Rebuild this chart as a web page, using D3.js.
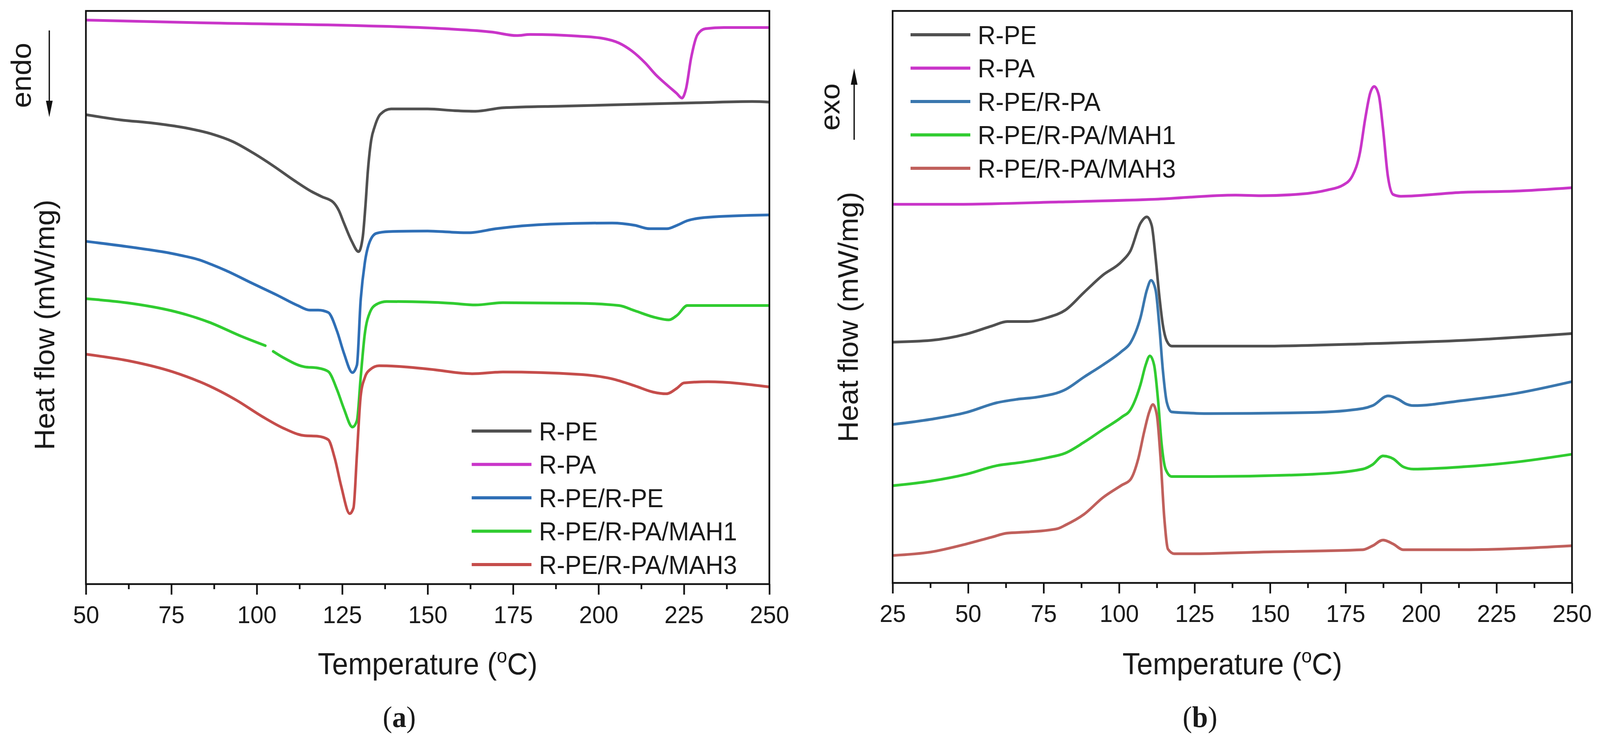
<!DOCTYPE html>
<html>
<head>
<meta charset="utf-8">
<title>DSC curves</title>
<script src="https://cdn.jsdelivr.net/npm/d3@7"></script>
<style>
  html, body { margin: 0; padding: 0; background: #fff; overflow: hidden; }
  svg { display: block; }
  text { font-family: "Liberation Sans", Arial, sans-serif; fill: #1a1a1a; }
</style>
</head>
<body>
<script>
// ---------------------
// data (temperature in C, heat flow in arbitrary units, curves shifted)
// ---------------------

// (a) heating
var aPE = [[50,8.19],[60,8.10],[70,8.04],[80,7.95],[87,7.85],[93,7.72],[99,7.52],[105,7.29],[111,7.04],[116,6.85],[119,6.76],[122.4,6.66],[124,6.52],[125.5,6.30],[127.8,5.98],[129.8,5.80],[131,6.05],[131.8,6.6],[132.5,7.2],[133.5,7.75],[134.5,7.98],[136.2,8.20],[139.3,8.29],[150,8.29],[158,8.26],[164,8.25],[172,8.31],[190,8.34],[210,8.37],[230,8.40],[245,8.42],[250,8.41]];
var aPA = [[50,9.84],[86,9.79],[132,9.74],[155,9.69],[169,9.63],[176,9.57],[180,9.59],[194,9.56],[201.4,9.52],[206,9.44],[209.8,9.30],[213.7,9.09],[216.7,8.89],[219.8,8.72],[222.9,8.56],[224.4,8.48],[225.6,8.64],[227.1,9.18],[229,9.59],[231.3,9.69],[236.7,9.71],[250,9.71]];
var aBlend = [[50,5.98],[63,5.88],[75,5.77],[79,5.72],[83,5.66],[87,5.57],[91,5.47],[98.6,5.25],[106,5.04],[112,4.86],[115.5,4.78],[118,4.78],[120.9,4.74],[123.5,4.41],[125.5,4.03],[128,3.69],[129.3,3.82],[130.4,4.95],[131.6,5.60],[133.1,5.98],[135,6.12],[138.5,6.15],[150,6.16],[157,6.14],[162,6.13],[170,6.20],[186,6.28],[204,6.30],[210.6,6.26],[215,6.20],[220,6.20],[223,6.26],[226,6.34],[232,6.40],[250,6.44]];
var aMAH1 = [[50,4.98],[63,4.90],[75,4.77],[80,4.69],[86,4.57],[95.6,4.32],[102.5,4.16],[103.6,null],[104.8,4.06],[107.8,3.95],[114,3.79],[117.8,3.77],[120.9,3.71],[123.5,3.39],[125.5,3.06],[128,2.74],[129.3,2.85],[130.4,3.60],[131.6,4.36],[133.1,4.74],[135,4.88],[138,4.93],[150,4.92],[157,4.90],[164,4.87],[172,4.91],[194,4.90],[206,4.86],[210.6,4.77],[216.7,4.65],[220.6,4.61],[223,4.69],[226,4.86],[250,4.86]];
var aMAH3 = [[50,4.01],[63,3.89],[75.6,3.70],[86,3.46],[94,3.21],[101.7,2.92],[107.8,2.72],[114,2.59],[117.8,2.58],[120.9,2.52],[122.8,2.20],[124.7,1.71],[127.2,1.23],[128.3,1.33],[129.3,2.25],[130.4,3.28],[131.6,3.60],[133.1,3.74],[135.8,3.81],[141,3.80],[152,3.74],[160,3.68],[163,3.67],[172,3.70],[194,3.66],[204,3.58],[210.6,3.46],[216,3.35],[219.8,3.32],[223,3.42],[225,3.51],[232,3.53],[250,3.44]];

// (b) cooling
var bPE = [[25,4.21],[37.6,4.24],[49.4,4.35],[57.8,4.49],[63,4.57],[69.6,4.57],[76.3,4.64],[82.2,4.77],[88.4,5.08],[94.6,5.38],[100.9,5.62],[103.8,5.81],[107.1,6.29],[109.2,6.40],[110.8,6.25],[112.1,5.68],[113.3,5.03],[114.5,4.51],[115.8,4.23],[117.4,4.14],[147,4.14],[181,4.18],[214,4.24],[250,4.36]];
var bPA = [[25,6.62],[46,6.62],[80,6.66],[113,6.71],[138.6,6.78],[147,6.77],[160.5,6.80],[169,6.87],[174,6.95],[177.3,7.12],[179.8,7.53],[181.5,8.11],[183.2,8.57],[184.5,8.68],[186,8.53],[187.4,7.95],[189,7.12],[190.8,6.79],[193.3,6.76],[214,6.83],[231,6.85],[250,6.91]];
var bBlend = [[25,2.77],[37.6,2.86],[49.4,2.98],[59.5,3.15],[66.2,3.21],[73,3.25],[82.2,3.38],[88.4,3.60],[94.6,3.81],[100.9,4.05],[103.8,4.20],[107.1,4.64],[109.2,5.12],[110.6,5.29],[112.1,5.12],[113.3,4.51],[114.5,3.72],[115.8,3.16],[117.4,2.99],[123.7,2.97],[130,2.96],[164,2.98],[180.7,3.05],[184,3.10],[189.1,3.27],[192.5,3.21],[195,3.13],[197.5,3.10],[214,3.19],[231,3.31],[250,3.52]];
var bMAH1 = [[25,1.70],[37.6,1.78],[49.4,1.90],[59.5,2.05],[67.9,2.11],[76.3,2.19],[82.2,2.27],[88.4,2.46],[94.6,2.68],[100.9,2.90],[103.8,3.03],[107.1,3.47],[108.8,3.81],[110.2,3.97],[111.6,3.81],[112.9,3.20],[114.1,2.42],[115.4,1.99],[117.4,1.86],[123.7,1.86],[130,1.86],[164,1.90],[180.7,1.99],[184,2.07],[187.4,2.22],[190.8,2.17],[194.1,2.03],[197.5,1.99],[214,2.03],[231,2.11],[250,2.25]];
var bMAH3 = [[25,0.48],[37.6,0.54],[49.4,0.68],[57.8,0.80],[62.9,0.87],[69.6,0.89],[79.7,0.95],[82.2,1.01],[88.4,1.20],[94.6,1.49],[100.9,1.71],[103.8,1.81],[106.3,2.16],[108.3,2.64],[110.0,2.99],[111.2,3.12],[112.5,2.94],[113.7,2.21],[115.0,1.12],[116.2,0.59],[118.3,0.51],[124,0.51],[147,0.54],[180.7,0.58],[184,0.65],[187.4,0.75],[190.8,0.68],[194.1,0.58],[214,0.58],[250,0.65]];

var namesA = ["R-PE", "R-PA", "R-PE/R-PE", "R-PE/R-PA/MAH1", "R-PE/R-PA/MAH3"];
var namesB = ["R-PE", "R-PA", "R-PE/R-PA", "R-PE/R-PA/MAH1", "R-PE/R-PA/MAH3"];
var ticksA = [50, 75, 100, 125, 150, 175, 200, 225, 250];
var ticksB = [25, 50, 75, 100, 125, 150, 175, 200, 225, 250];

var colorsA = ["#505050", "#c935c9", "#2f6fb6", "#30cc30", "#c54d4b"];
var colorsB = ["#505050", "#c935c9", "#3a77ae", "#30cc30", "#c0605c"];

// drawing is laid out on the 4284 x 1903 figure; the window may be narrower,
// so the svg squeezes it to whatever viewport there is
var w = 4284, h = 1903;
var vw = window.innerWidth || w, vh = window.innerHeight || h;

var svg = d3.select("body").append("svg")
  .attr("width", vw)
  .attr("height", vh)
  .attr("viewBox", "0 0 " + w + " " + h)
  .attr("preserveAspectRatio", "none");

var panels = [
  { id: "a", left: 230, right: 2060, top: 28, bottom: 1496, xdom: [50, 250], ticks: ticksA,
    series: [aPE, aPA, aBlend, aMAH1, aMAH3], names: namesA, colors: colorsA,
    legX: 1263, legY: 1104, tag: "(a)", tagX: 1069,
    ylabX: 145, ylabY: 832, dir: "endo", dirX: 83, dirY: 193, arrowX: 132, arrowFrom: 78, arrowTo: 300 },
  { id: "b", left: 2390, right: 4209, top: 28, bottom: 1493, xdom: [25, 250], ticks: ticksB,
    series: [bPE, bPA, bBlend, bMAH1, bMAH3], names: namesB, colors: colorsB,
    legX: 2438, legY: 89, tag: "(b)", tagX: 3213,
    ylabX: 2297, ylabY: 812, dir: "exo", dirX: 2248, dirY: 274, arrowX: 2287, arrowFrom: 358, arrowTo: 175 }
];

panels.forEach(function(p) {
  var x = d3.scaleLinear().domain(p.xdom).range([p.left, p.right]);
  var y = d3.scaleLinear().domain([0, 10]).range([p.bottom, p.top]);

  var g = svg.append("g").attr("class", "panel-" + p.id);

  g.append("clipPath").attr("id", "clip-" + p.id)
    .append("rect")
    .attr("x", p.left).attr("y", p.top)
    .attr("width", p.right - p.left).attr("height", p.bottom - p.top);

  var line = d3.line()
    .defined(function(d) { return d[1] !== null; })
    .x(function(d) { return x(d[0]); })
    .y(function(d) { return y(d[1]); })
    .curve(d3.curveMonotoneX);

  g.append("g").attr("clip-path", "url(#clip-" + p.id + ")")
    .selectAll("path")
    .data(p.series)
    .enter()
    .append("path")
    .attr("d", line)
    .attr("fill", "none")
    .attr("stroke", function(d, i) { return p.colors[i]; })
    .attr("stroke-width", 7)
    .attr("stroke-linejoin", "round")
    .attr("stroke-linecap", "round");

  // minor ticks
  var minor = [];
  for (var t = p.ticks[0] + 12.5; t < p.xdom[1]; t += 25) minor.push(t);
  g.append("g")
    .attr("transform", "translate(0," + p.bottom + ")")
    .call(d3.axisBottom(x).tickValues(minor).tickSize(13).tickFormat(""))
    .call(function(s) {
      s.select(".domain").remove();
      s.selectAll("line").attr("stroke", "#111").attr("stroke-width", 4.5);
    });

  // major ticks + labels
  g.append("g")
    .attr("transform", "translate(0," + p.bottom + ")")
    .call(d3.axisBottom(x).tickValues(p.ticks).tickSize(27).tickPadding(28).tickFormat(d3.format("d")))
    .call(function(s) {
      s.select(".domain").remove();
      s.selectAll("line").attr("stroke", "#111").attr("stroke-width", 4.5);
      s.selectAll("text")
        .attr("font-size", 63)
        .attr("font-family", "Liberation Sans, Arial, sans-serif")
        .attr("fill", "#1a1a1a");
    });

  // frame
  g.append("rect")
    .attr("x", p.left).attr("y", p.top)
    .attr("width", p.right - p.left).attr("height", p.bottom - p.top)
    .attr("fill", "none")
    .attr("stroke", "#111")
    .attr("stroke-width", 4.5);

  // x title
  var xt = g.append("text")
    .attr("x", (p.left + p.right) / 2)
    .attr("y", 1727)
    .attr("text-anchor", "middle")
    .attr("font-size", 77);
  xt.append("tspan").text("Temperature (");
  xt.append("tspan").attr("font-size", 50).attr("dy", -30).text("o");
  xt.append("tspan").attr("dy", 30).text("C)");

  // y title
  g.append("text")
    .attr("transform", "translate(" + p.ylabX + "," + p.ylabY + ") rotate(-90)")
    .attr("text-anchor", "middle")
    .attr("font-size", 75)
    .text("Heat flow (mW/mg)");

  // endo / exo marker
  g.append("text")
    .attr("transform", "translate(" + p.dirX + "," + p.dirY + ") rotate(-90)")
    .attr("text-anchor", "middle")
    .attr("font-size", 75)
    .text(p.dir);

  var sgn = p.arrowTo > p.arrowFrom ? 1 : -1;
  g.append("line")
    .attr("x1", p.arrowX).attr("x2", p.arrowX)
    .attr("y1", p.arrowFrom).attr("y2", p.arrowTo - sgn * 30)
    .attr("stroke", "#111").attr("stroke-width", 3.5);
  g.append("path")
    .attr("d", "M" + (p.arrowX - 9) + "," + (p.arrowTo - sgn * 42) +
               "L" + (p.arrowX + 9) + "," + (p.arrowTo - sgn * 42) +
               "L" + p.arrowX + "," + p.arrowTo + "Z")
    .attr("fill", "#111");

  // legend
  var leg = g.append("g").selectAll("g")
    .data(p.names)
    .enter()
    .append("g")
    .attr("transform", function(d, i) { return "translate(" + p.legX + "," + (p.legY + i * 85.5) + ")"; });
  leg.append("line")
    .attr("x1", 0).attr("x2", 160)
    .attr("stroke", function(d, i) { return p.colors[i]; })
    .attr("stroke-width", 8);
  leg.append("text")
    .attr("x", 180)
    .attr("dy", "0.36em")
    .attr("font-size", 66)
    .text(function(d) { return d; });

  // panel tag
  var tag = g.append("text")
    .attr("x", p.tagX)
    .attr("y", 1862)
    .attr("text-anchor", "middle")
    .attr("font-size", 76)
    .style("font-family", "'Liberation Serif', 'Times New Roman', serif");
  tag.append("tspan").text("(");
  tag.append("tspan").attr("font-weight", "bold").text(p.tag.charAt(1));
  tag.append("tspan").text(")");
});
</script>
</body>
</html>
